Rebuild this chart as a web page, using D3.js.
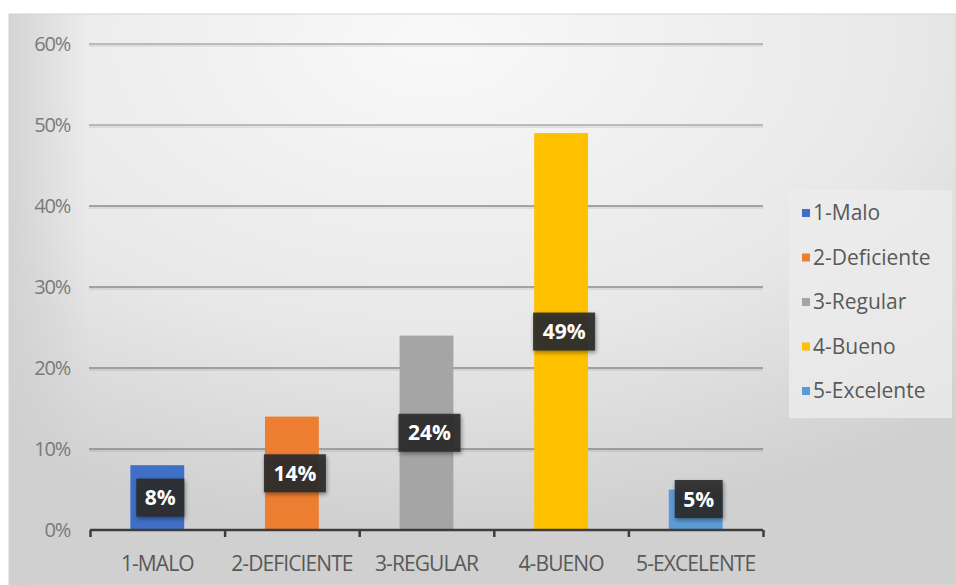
<!DOCTYPE html>
<html>
<head>
<meta charset="utf-8">
<script src="https://cdn.jsdelivr.net/npm/d3@7"></script>
<style>
  body { margin: 0; background: #fff; }
  text { font-family: "Open Sans", "Noto Sans", sans-serif; }
</style>
</head>
<body>
<svg width="956" height="585"></svg>
<script>
var categories = ['1-MALO', '2-DEFICIENTE', '3-REGULAR', '4-BUENO', '5-EXCELENTE'];
var seriesNames = ['1-Malo', '2-Deficiente', '3-Regular', '4-Bueno', '5-Excelente'];
var values = [0.08, 0.14, 0.24, 0.49, 0.05];
var colors = ['#3f6fc6', '#ed7d31', '#a5a5a5', '#ffc000', '#5b9bd5'];
var yTicks = [0, 0.1, 0.2, 0.3, 0.4, 0.5, 0.6];

var svg = d3.select('svg');
var defs = svg.append('defs');

var bg = defs.append('radialGradient')
  .attr('id', 'bg')
  .attr('cx', '0.45').attr('cy', '0.05').attr('r', '0.85');
bg.append('stop').attr('offset', '0%').attr('stop-color', '#f9f9f9');
bg.append('stop').attr('offset', '60%').attr('stop-color', '#e8e8e8');
bg.append('stop').attr('offset', '100%').attr('stop-color', '#d0d0d0');

var edge = defs.append('linearGradient').attr('id', 'edge');
edge.append('stop').attr('offset', '0%').attr('stop-color', '#cfcfcf').attr('stop-opacity', 0.8);
edge.append('stop').attr('offset', '100%').attr('stop-color', '#cfcfcf').attr('stop-opacity', 0);

var shadow = defs.append('filter').attr('id', 'shadow')
  .attr('x', '-20%').attr('y', '-20%').attr('width', '150%').attr('height', '150%');
shadow.append('feDropShadow')
  .attr('dx', 1).attr('dy', 2).attr('stdDeviation', 2)
  .attr('flood-color', '#000').attr('flood-opacity', 0.45);

// chart background
svg.append('rect')
  .attr('x', 9).attr('y', 14)
  .attr('width', 947).attr('height', 571)
  .attr('fill', 'url(#bg)')
  .attr('stroke', '#d4d4d4');
svg.append('rect')
  .attr('x', 9).attr('y', 14)
  .attr('width', 80).attr('height', 571)
  .attr('fill', 'url(#edge)');

var x = d3.scaleBand()
  .domain(categories)
  .range([90, 763])
  .paddingInner(0.6)
  .paddingOuter(0.3);

var y = d3.scaleLinear()
  .domain([0, 0.6])
  .range([530, 44]);

// gridlines with a soft shadow line under each
var grid = svg.append('g')
  .selectAll('g')
  .data(yTicks.filter(function(d) { return d > 0; }))
  .enter()
  .append('g');
grid.append('line')
  .attr('x1', 89).attr('x2', 763)
  .attr('y1', function(d) { return y(d) + 2; })
  .attr('y2', function(d) { return y(d) + 2; })
  .attr('stroke', '#000').attr('stroke-opacity', 0.07)
  .attr('stroke-width', 2);
grid.append('line')
  .attr('x1', 89).attr('x2', 763)
  .attr('y1', function(d) { return y(d); })
  .attr('y2', function(d) { return y(d); })
  .attr('stroke', function(d) { return d >= 0.5 ? '#a8a8a8' : '#8a8a8a'; })
  .attr('stroke-width', 1.3);

// y tick labels
svg.append('g')
  .selectAll('text')
  .data(yTicks)
  .enter()
  .append('text')
  .attr('x', 70)
  .attr('y', function(d) { return y(d); })
  .attr('dy', '0.35em')
  .attr('text-anchor', 'end')
  .attr('fill', '#7a7a7a')
  .style('font-size', '20px')
  .style('letter-spacing', '-1.2px')
  .text(d3.format('.0%'));

// bars
svg.append('g')
  .selectAll('rect')
  .data(values)
  .enter()
  .append('rect')
  .attr('x', function(d, i) { return x(categories[i]); })
  .attr('width', x.bandwidth())
  .attr('y', function(d) { return y(d); })
  .attr('height', function(d) { return y(0) - y(d); })
  .attr('fill', function(d, i) { return colors[i]; });

// x axis
var xAxis = d3.axisBottom(d3.scaleLinear().domain([0, 5]).range([90, 763]))
  .ticks(5)
  .tickSize(7)
  .tickFormat('');
var ax = svg.append('g')
  .attr('transform', 'translate(0,' + y(0) + ')')
  .call(xAxis);
ax.select('.domain').remove();
ax.append('line')
  .attr('x1', 90).attr('x2', 763)
  .attr('stroke', '#3c3c3c').attr('stroke-width', 2.5);
ax.selectAll('.tick line').attr('stroke', '#3c3c3c').attr('stroke-width', 2.5);

svg.append('g')
  .selectAll('text')
  .data(categories)
  .enter()
  .append('text')
  .attr('x', function(d) { return x(d) + x.bandwidth() / 2; })
  .attr('y', 571)
  .attr('text-anchor', 'middle')
  .attr('fill', '#595959')
  .style('font-size', '21px')
  .style('letter-spacing', '-0.9px')
  .text(function(d) { return d; });

// data labels
var labels = svg.append('g')
  .selectAll('g')
  .data(values)
  .enter()
  .append('g')
  .attr('transform', function(d, i) {
    var cy = Math.min(y(d / 2), y(0) - 31);
    return 'translate(' + (x(categories[i]) + x.bandwidth() / 2 + 3) + ',' + cy + ')';
  });
labels.append('rect')
  .attr('x', function(d) { return d < 0.1 ? -24 : -31; })
  .attr('width', function(d) { return d < 0.1 ? 48 : 62; })
  .attr('y', -19).attr('height', 38)
  .attr('fill', '#2b2b2b')
  .attr('fill-opacity', 0.92)
  .attr('filter', 'url(#shadow)');
labels.append('text')
  .attr('text-anchor', 'middle')
  .attr('dy', '0.36em')
  .attr('fill', '#fff')
  .style('font-size', '21px')
  .style('font-weight', 'bold')
  .text(d3.format('.0%'));

// legend
svg.append('rect')
  .attr('x', 789).attr('y', 190)
  .attr('width', 163).attr('height', 228)
  .attr('fill', '#ececec').attr('fill-opacity', 0.8);

var leg = svg.append('g')
  .selectAll('g')
  .data(seriesNames)
  .enter()
  .append('g')
  .attr('transform', function(d, i) { return 'translate(802,' + (213 + i * 44.5) + ')'; });
leg.append('rect')
  .attr('x', 0).attr('y', -4)
  .attr('width', 8).attr('height', 8)
  .attr('fill', function(d, i) { return colors[i]; });
leg.append('text')
  .attr('x', 11)
  .attr('dy', '0.35em')
  .attr('fill', '#595959')
  .style('font-size', '21px')
  .style('letter-spacing', '0px')
  .text(function(d) { return d; });
</script>
</body>
</html>
